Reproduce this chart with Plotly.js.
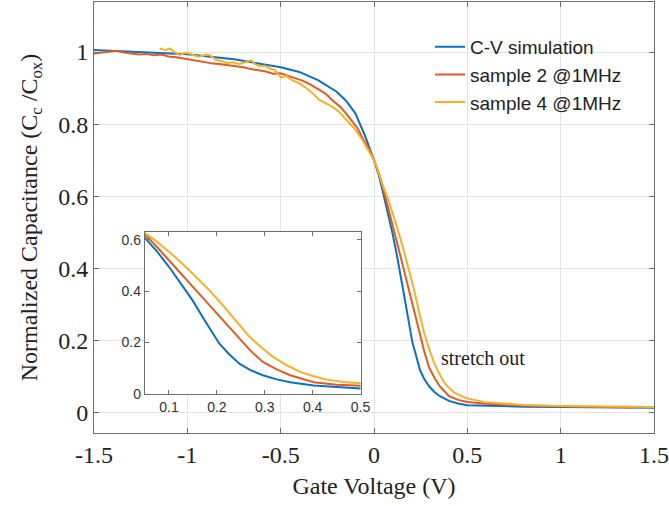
<!DOCTYPE html>
<html>
<head>
<meta charset="utf-8">
<script src="https://cdn.plot.ly/plotly-3.0.1.min.js"></script>
<style>html,body{margin:0;padding:0;background:#fff;}#chart{width:669px;height:506px;}</style>
</head>
<body>
<div id="chart"></div>
<script>
// ---- data ----
const seriesNames = ["C-V simulation", "sample 2 @1MHz", "sample 4 @1MHz"];

const simV = [-1.5,-1.25,-1.0,-0.75,-0.5,-0.4,-0.3,-0.2,-0.15,-0.1,-0.05,0,0.025,0.047,0.075,0.1,0.125,0.149,0.175,0.205,0.225,0.247,0.27,0.296,0.325,0.353,0.402,0.45,0.5,0.6,0.8,1.0,1.25,1.5];
const simC = [1.006,1.0,0.994,0.98,0.958,0.945,0.922,0.89,0.865,0.83,0.77,0.70,0.66,0.613,0.555,0.495,0.43,0.365,0.285,0.196,0.155,0.117,0.092,0.072,0.056,0.045,0.032,0.025,0.020,0.018,0.016,0.015,0.014,0.013];

const s2V = [-1.5,-1.46,-1.42,-1.38,-1.34,-1.30,-1.26,-1.22,-1.18,-1.14,-1.10,-1.06,-1.02,-0.98,-0.94,-0.90,-0.86,-0.82,-0.78,-0.74,-0.70,-0.66,-0.62,-0.58,-0.54,-0.50,-0.46,-0.42,-0.38,-0.34,-0.30,-0.26,-0.22,-0.18,-0.15,-0.12,-0.09,-0.06,-0.03,0.0,0.025,0.047,0.075,0.1,0.128,0.156,0.185,0.212,0.247,0.27,0.296,0.325,0.353,0.38,0.402,0.45,0.5,0.6,0.8,1.0,1.2,1.39];
const s2C = [0.996,0.998,1.001,1.004,0.999,0.997,0.993,0.995,0.991,0.993,0.988,0.986,0.982,0.980,0.974,0.970,0.968,0.966,0.964,0.960,0.958,0.953,0.950,0.946,0.940,0.941,0.934,0.927,0.920,0.910,0.897,0.885,0.865,0.848,0.830,0.810,0.790,0.760,0.735,0.700,0.665,0.626,0.572,0.520,0.462,0.404,0.345,0.287,0.215,0.168,0.124,0.095,0.072,0.056,0.045,0.035,0.029,0.024,0.019,0.017,0.015,0.014];

const s4V = [-1.148,-1.12,-1.094,-1.07,-1.041,-1.01,-0.987,-0.96,-0.934,-0.90,-0.881,-0.845,-0.81,-0.792,-0.76,-0.72,-0.69,-0.658,-0.635,-0.614,-0.585,-0.56,-0.53,-0.498,-0.471,-0.44,-0.40,-0.37,-0.329,-0.293,-0.265,-0.240,-0.215,-0.187,-0.16,-0.133,-0.10,-0.062,-0.03,0.0,0.025,0.047,0.075,0.10,0.128,0.156,0.185,0.212,0.24,0.268,0.293,0.318,0.345,0.374,0.40,0.43,0.465,0.5,0.6,0.8,1.0,1.25,1.5];
const s4C = [1.010,1.005,1.010,1.000,0.992,0.998,0.996,0.990,0.987,0.993,0.992,0.978,0.975,0.969,0.972,0.967,0.972,0.977,0.966,0.961,0.962,0.955,0.950,0.929,0.934,0.922,0.913,0.903,0.886,0.867,0.860,0.853,0.845,0.834,0.818,0.802,0.785,0.756,0.728,0.700,0.667,0.630,0.593,0.554,0.507,0.456,0.402,0.346,0.283,0.222,0.180,0.143,0.112,0.085,0.069,0.055,0.046,0.039,0.028,0.021,0.018,0.016,0.015];

const mainXTicks = [-1.5,-1,-0.5,0,0.5,1,1.5];
const mainXTickText = ["-1.5","-1","-0.5","0","0.5","1","1.5"];
const mainYTicks = [0,0.2,0.4,0.6,0.8,1];
const mainYTickText = ["0","0.2","0.4","0.6","0.8","1"];
const insetXTicks = [0.1,0.2,0.3,0.4,0.5];
const insetYTicks = [0,0.2,0.4,0.6];

// ---- styling ----
const colors = ["#0b71c2", "#e35a24", "#f8b127"];
const serif = "Liberation Serif, Times New Roman, serif";
const sans = "Liberation Sans, Arial, sans-serif";

const xs = [simV, s2V, s4V];
const ys = [simC, s2C, s4C];
const traces = [];
for (let i = 0; i < 3; i++) {
  traces.push({x: xs[i], y: ys[i], type: "scatter", mode: "lines", name: seriesNames[i],
    line: {color: colors[i], width: 2}, xaxis: "x", yaxis: "y", hoverinfo: "skip"});
}
for (let i = 0; i < 3; i++) {
  traces.push({x: xs[i], y: ys[i], type: "scatter", mode: "lines", name: seriesNames[i],
    line: {color: colors[i], width: 2}, xaxis: "x2", yaxis: "y2", showlegend: false, hoverinfo: "skip"});
}

const axisCol = "#6e6e6e";
const layout = {
  width: 669, height: 506,
  margin: {l: 94, r: 15, t: 2, b: 73, pad: 0},
  paper_bgcolor: "#ffffff", plot_bgcolor: "#ffffff",
  showlegend: true,
  legend: {x: 0.6, y: 0.94, xanchor: "left", yanchor: "top", bgcolor: "rgba(0,0,0,0)",
    font: {family: sans, size: 19, color: "#222"}, borderwidth: 0, tracegroupgap: 0},
  xaxis: {domain: [0, 1], range: [-1.5, 1.5], tickvals: mainXTicks, ticktext: mainXTickText,
    showgrid: true, gridcolor: "#e3e3e3", gridwidth: 1, zeroline: false,
    showline: true, linecolor: axisCol, linewidth: 1, mirror: "ticks",
    ticks: "inside", ticklen: 5, tickcolor: axisCol,
    tickfont: {family: serif, size: 24, color: "#222"},
    title: {text: "Gate Voltage (V)", font: {family: serif, size: 24, color: "#222"}, standoff: 10}},
  yaxis: {domain: [0, 1], range: [-0.057, 1.139], tickvals: mainYTicks, ticktext: mainYTickText,
    showgrid: true, gridcolor: "#e3e3e3", gridwidth: 1, zeroline: false,
    showline: true, linecolor: axisCol, linewidth: 1, mirror: "ticks",
    ticks: "inside", ticklen: 5, tickcolor: axisCol,
    tickfont: {family: serif, size: 24, color: "#222"},
    title: {text: "Normalized Capacitance (C<sub>c</sub> /C<sub>ox</sub>)", font: {family: serif, size: 24, color: "#222"}, standoff: 13}},
  xaxis2: {domain: [0.0911, 0.476], anchor: "y2", range: [0.05, 0.5], tickvals: insetXTicks,
    showgrid: false, zeroline: false, showline: true, linecolor: axisCol, linewidth: 1.2, mirror: "ticks",
    ticks: "inside", ticklen: 4, tickcolor: axisCol,
    tickfont: {family: sans, size: 14, color: "#333"}},
  yaxis2: {domain: [0.0911, 0.466], anchor: "x2", range: [0, 0.63], tickvals: insetYTicks,
    showgrid: false, zeroline: false, showline: true, linecolor: axisCol, linewidth: 1.2, mirror: "ticks",
    ticks: "inside", ticklen: 4, tickcolor: axisCol,
    tickfont: {family: sans, size: 14, color: "#333"}},
  annotations: [{x: 0.347, y: 0.152, xref: "x", yref: "y", text: "stretch out", showarrow: false,
    xanchor: "left", yanchor: "middle", font: {family: serif, size: 20, color: "#222"}}]
};

Plotly.newPlot("chart", traces, layout, {staticPlot: true, displayModeBar: false});
</script>
</body>
</html>
